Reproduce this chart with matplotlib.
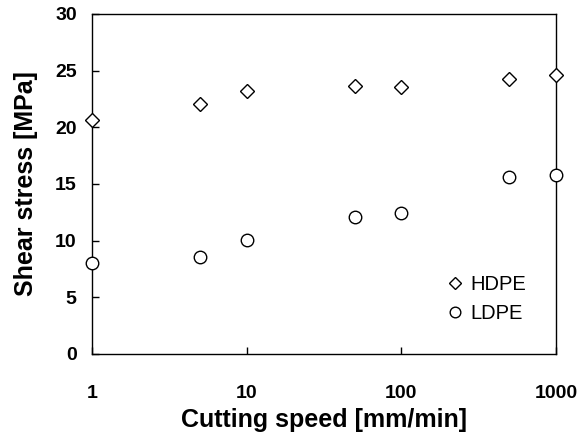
import matplotlib
matplotlib.use("Agg")
import matplotlib.pyplot as plt

plt.rcParams['font.family'] = ['Liberation Sans', 'DejaVu Sans']

speed = [1, 5, 10, 50, 100, 500, 1000]
hdpe = [20.65, 22.06, 23.24, 23.68, 23.53, 24.24, 24.65]
ldpe = [8.06, 8.53, 10.06, 12.06, 12.41, 15.65, 15.83]
xticks = [1, 10, 100, 1000]
xticklabels = ['1', '10', '100', '1000']
yticks = [0, 5, 10, 15, 20, 25, 30]

fig = plt.figure(figsize=(5.8, 4.34), dpi=100)
ax = fig.add_axes([92/580, 80/434, 464/580, 340/434])

ax.plot(speed, hdpe, linestyle='none', marker='D', markersize=7,
        markerfacecolor='white', markeredgecolor='black', markeredgewidth=1.0,
        label='HDPE', clip_on=False, zorder=3)
ax.plot(speed, ldpe, linestyle='none', marker='o', markersize=9,
        markerfacecolor='white', markeredgecolor='black', markeredgewidth=1.0,
        label='LDPE', clip_on=False, zorder=3)

ax.set_xscale('log')
ax.set_xlim(1, 1000)
ax.set_ylim(0, 30)
ax.set_xticks(xticks)
ax.set_xticklabels(xticklabels)
ax.xaxis.set_minor_locator(matplotlib.ticker.NullLocator())
ax.set_yticks(yticks)

for lab in ax.get_xticklabels() + ax.get_yticklabels():
    lab.set_fontweight('bold')
    lab.set_fontsize(14)

ax.tick_params(axis='both', direction='in', length=5, width=1, color='black')
ax.tick_params(axis='x', pad=22)
ax.tick_params(axis='y', pad=11)

for s in ax.spines.values():
    s.set_linewidth(1.0)

ax.set_xlabel('Cutting speed [mm/min]', fontsize=18, fontweight='bold', labelpad=5)
ax.set_ylabel('Shear stress [MPa]', fontsize=18, fontweight='bold', labelpad=12)

leg = ax.legend(loc='upper left', bbox_to_anchor=(435/580, 1 - 265/434),
                bbox_transform=fig.transFigure, frameon=False, fontsize=14.5,
                handlelength=1.0, handletextpad=0.25, labelspacing=0.5,
                markerscale=0.85, borderpad=0)

fig.savefig('out.png', dpi=100)
